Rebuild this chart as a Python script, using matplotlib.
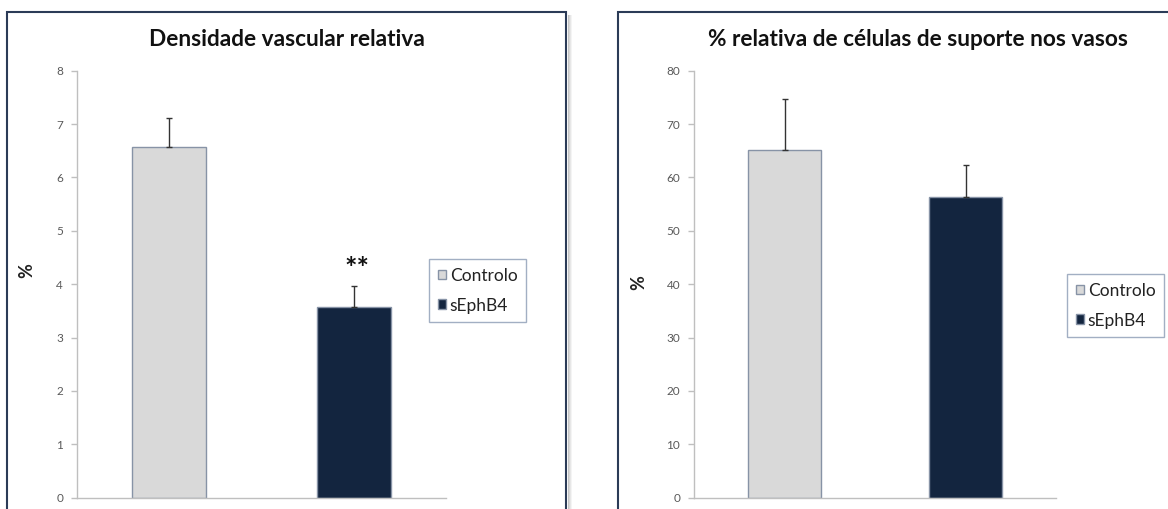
import matplotlib
matplotlib.use("Agg")
import matplotlib.pyplot as plt
from matplotlib.patches import Rectangle

plt.rcParams["font.family"] = ["Lato", "DejaVu Sans"]

groups = ["Controlo", "sEphB4"]
colors = ["#d9d9d9", "#13253f"]

density_mean = [6.57, 3.57]
density_err = [0.54, 0.40]
support_mean = [65.2, 56.4]
support_err = [9.5, 6.0]

titles = ["Densidade vascular relativa",
          "% relativa de células de suporte nos vasos"]

W, H = 1168, 509
fig = plt.figure(figsize=(W / 100, H / 100), dpi=100)


def fx(px):
    return px / W


def fy(py):
    return 1 - py / H


# panel frames (bottom edge is cut off in the original)
border = "#2b3b57"
for x0, x1 in [(7, 566), (617.5, 1200)]:
    fig.patches.append(Rectangle((fx(x0), fy(540)), fx(x1 - x0), (540 - 12) / H,
                                 transform=fig.transFigure, fill=False,
                                 edgecolor=border, linewidth=1.5, clip_on=False))
# soft shadow on the right of the left frame
for k, a in enumerate([0.45, 0.3, 0.18, 0.08]):
    fig.patches.append(Rectangle((fx(567.5 + k), 0), fx(1), fy(15),
                                 transform=fig.transFigure, facecolor="#7f7f7f",
                                 edgecolor="none", alpha=a))


def draw_panel(rect, means, errs, ymax, step, title, title_x, legend_xy, ylab_xy):
    ax = fig.add_axes(rect)
    for i, (m, e) in enumerate(zip(means, errs)):
        ax.bar(i, m, width=0.4, color=colors[i], edgecolor="#8793a6",
               linewidth=1.0, label=groups[i], zorder=2)
        ax.errorbar(i, m, yerr=[[0], [e]], fmt="none", ecolor="#333333",
                    elinewidth=1.0, capsize=2.5, capthick=1.0, zorder=3)
    ax.set_xlim(-0.5, 1.5)
    ax.set_ylim(0, ymax)
    ax.set_yticks(range(0, ymax + 1, step))
    ax.set_xticks([])
    for s in ["top", "right"]:
        ax.spines[s].set_visible(False)
    for s in ["left", "bottom"]:
        ax.spines[s].set_color("#bfbfbf")
        ax.spines[s].set_linewidth(1.0)
    ax.tick_params(axis="y", colors="#bfbfbf", length=4, width=1.0,
                   labelcolor="#595959", labelsize=8.5, pad=6)
    ax.set_ylabel("%", fontsize=13, fontweight="bold", color="#222222")
    ax.yaxis.set_label_coords(*ylab_xy)
    fig.text(fx(title_x), fy(39), title, ha="center", va="center",
             fontsize=16.3, fontweight="bold", color="#111111")
    leg = ax.legend(loc="upper left", bbox_to_anchor=(fx(legend_xy[0]), fy(legend_xy[1])),
                    bbox_transform=fig.transFigure, frameon=True, fancybox=False,
                    fontsize=12.5, handlelength=0.5, handleheight=0.5,
                    handletextpad=0.2, labelspacing=0.8, borderpad=0.5,
                    borderaxespad=0)
    leg.get_frame().set_edgecolor("#8b9bb4")
    leg.get_frame().set_linewidth(1.0)
    for t in leg.get_texts():
        t.set_color("#222222")
    return ax


ax1 = draw_panel([fx(77), fy(497.7), fx(369), 427 / H], density_mean, density_err,
                 8, 1, titles[0], 286.5, (429, 259), (-0.114, 0.531))
ax1.text(1.02, 4.28, "**", ha="center", va="center", fontsize=21,
         fontweight="bold", color="#111111")

ax2 = draw_panel([fx(694), fy(497.7), fx(362), 427 / H], support_mean, support_err,
                 80, 10, titles[1], 918, (1067, 274), (-0.13, 0.503))

fig.savefig("out.png", dpi=100)
